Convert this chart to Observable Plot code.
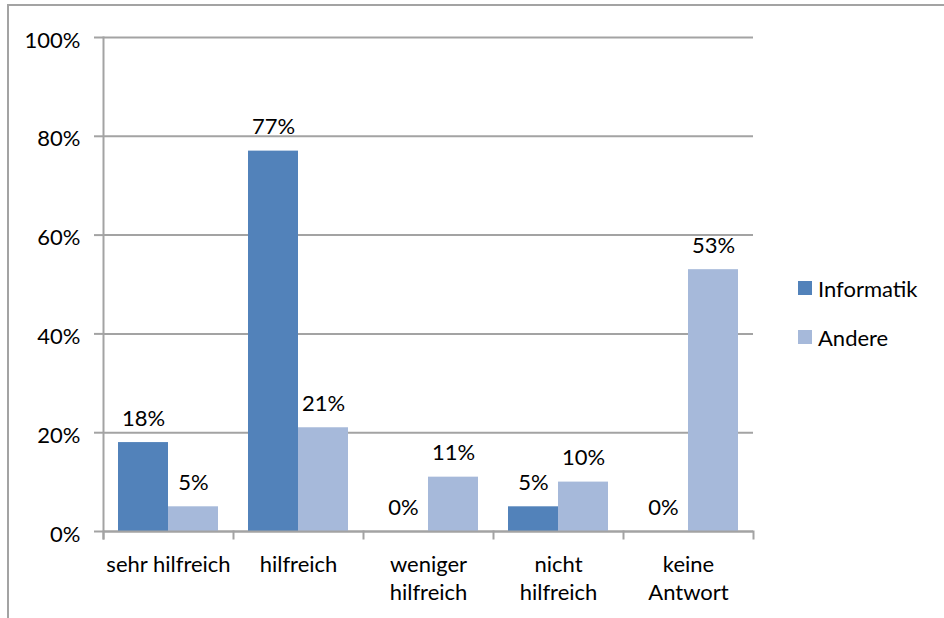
<!DOCTYPE html>
<html>
<head>
<meta charset="utf-8">
<script src="https://cdn.jsdelivr.net/npm/d3@7"></script>
<script src="https://cdn.jsdelivr.net/npm/@observablehq/plot@0.6"></script>
<style>
  html, body { margin: 0; padding: 0; background: white; overflow: hidden; }
  #wrap { position: relative; width: 944px; height: 618px; font-family: Lato, sans-serif; }
  #border { position: absolute; left: 7px; top: 4px; width: 1200px; height: 1200px;
            border-left: 2px solid #a3a3a3; border-top: 2px solid #a3a3a3; }
  #chart { position: absolute; left: 0; top: 0; }
  #legend { position: absolute; left: 798px; top: 275px; font-size: 22px; color: #000; }
  .item { display: flex; align-items: center; height: 26px; margin-bottom: 23px; }
  .sw { width: 14px; height: 14px; margin-right: 6px; }
</style>
</head>
<body>
<div id="wrap">
  <div id="border"></div>
  <div id="chart"></div>
  <div id="legend"></div>
</div>
<script>
const categories = ["sehr hilfreich", "hilfreich", "weniger\nhilfreich", "nicht\nhilfreich", "keine\nAntwort"];
const series = ["Informatik", "Andere"];
const informatik = [18, 77, 0, 5, 0];
const andere = [5, 21, 11, 10, 53];
const yTicks = [0, 20, 40, 60, 80, 100];
const colors = ["#5282ba", "#a6b9da"];

const rows = categories.flatMap((c, i) => [
  {category: c, series: "Informatik", value: informatik[i]},
  {category: c, series: "Andere", value: andere[i]}
]);

const gridColor = "#a3a3a3";
const plotTop = 37, plotBottom = 531, plotLeft = 102, plotRight = 754;
const W = 944, H = 618;

const plot = Plot.plot({
  width: W,
  height: H,
  marginLeft: plotLeft,
  marginRight: W - plotRight,
  marginTop: plotTop,
  marginBottom: H - plotBottom,
  style: {fontFamily: "Lato, sans-serif", fontSize: "22px", color: "black", background: "transparent"},
  fx: {domain: categories, padding: 0, label: null},
  x: {domain: series, paddingInner: 0, paddingOuter: 0.3, axis: null},
  y: {domain: [0, 100], label: null},
  color: {domain: series, range: colors},
  marks: [
    Plot.ruleY(yTicks, {y: d => d, stroke: gridColor, strokeWidth: 2}),
    Plot.axisY(yTicks, {anchor: "left", tickSize: 9, tickFormat: () => "",
      stroke: gridColor, strokeWidth: 2, label: null}),
    Plot.text(yTicks, {y: d => d, text: d => d + "%", frameAnchor: "left", facetAnchor: "left",
      textAnchor: "end", dx: -23, dy: 3, fontSize: 22, fill: "black"}),
    Plot.barY(rows, {fx: "category", x: "series", y: "value", fill: "series"}),
    Plot.ruleY([0], {y: d => d, stroke: gridColor, strokeWidth: 2}),
    Plot.text(rows, {fx: "category", x: "series", y: "value", text: d => d.value + "%",
      dy: -24, fontSize: 22, fill: "black"}),
    Plot.frame({anchor: "left", facetAnchor: "left", stroke: gridColor, strokeWidth: 2, insetBottom: -7}),
    Plot.frame({anchor: "left", stroke: gridColor, strokeWidth: 2, insetTop: plotBottom - plotTop, insetBottom: -7}),
    Plot.frame({anchor: "right", facetAnchor: "right", stroke: gridColor, strokeWidth: 2, insetTop: plotBottom - plotTop, insetBottom: -7}),
    Plot.axisFx({anchor: "bottom", tickSize: 0, tickPadding: 20, fontSize: 22, lineHeight: 1.28, label: null})
  ]
});
document.getElementById("chart").appendChild(plot);

const colorScale = plot.scale("color");
const legend = document.getElementById("legend");
colorScale.domain.forEach((s, i) => {
  const item = document.createElement("div");
  item.className = "item";
  const sw = document.createElement("div");
  sw.className = "sw";
  sw.style.background = colorScale.range[i];
  const t = document.createElement("span");
  t.textContent = s;
  item.appendChild(sw);
  item.appendChild(t);
  legend.appendChild(item);
});
</script>
</body>
</html>
